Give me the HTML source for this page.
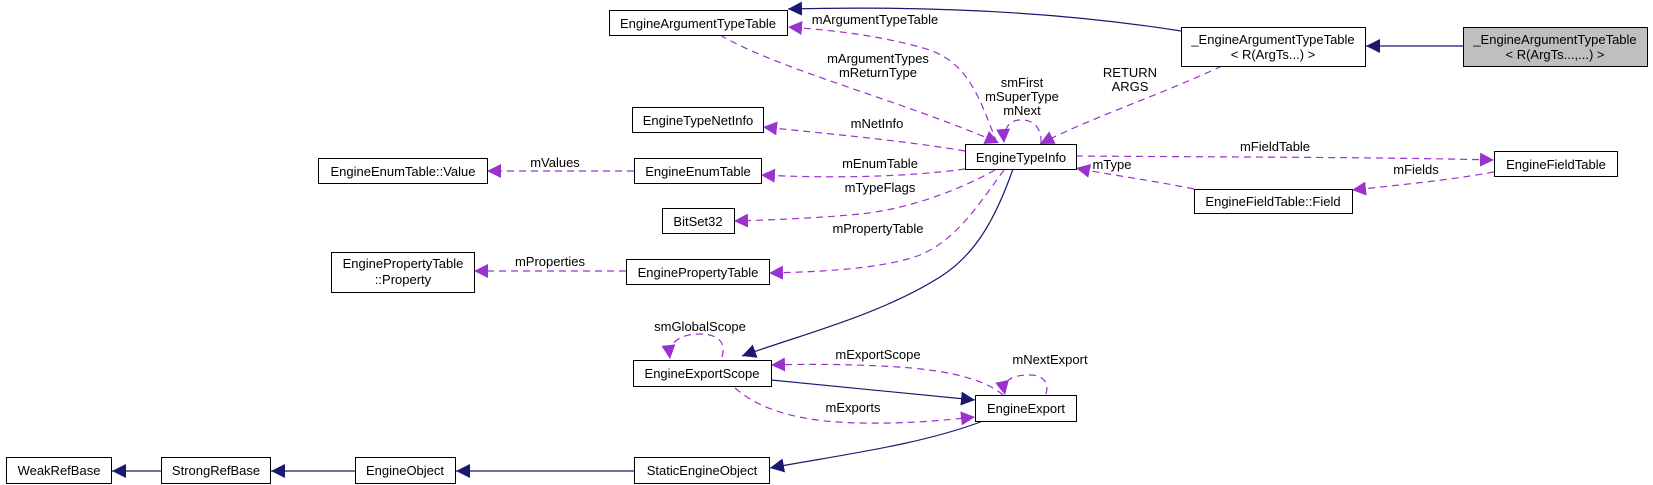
<!DOCTYPE html>
<html><head><meta charset="utf-8"><style>
html,body{margin:0;padding:0;background:#fff;}
svg{display:block;}
text{font-family:"Liberation Sans",Arial,sans-serif;font-size:13px;fill:#000;}
.b{fill:#fff;stroke:#000;stroke-width:1;}
.g{fill:#bfbfbf;stroke:#000;stroke-width:1;}
.sh{fill:none;stroke:#666;stroke-width:1;}
.s{fill:none;stroke:#191970;stroke-width:1.2;}
.d{fill:none;stroke:#9a32cd;stroke-width:1.2;stroke-dasharray:7,5;}
</style></head><body>
<svg width="1653" height="485" viewBox="0 0 1653 485" xmlns="http://www.w3.org/2000/svg">
<defs>
<marker id="ab" viewBox="0 0 10 10" refX="10" refY="5" markerWidth="14" markerHeight="14" markerUnits="userSpaceOnUse" orient="auto"><path d="M0,0L10,5L0,10z" fill="#191970"/></marker>
<marker id="ap" viewBox="0 0 10 10" refX="10" refY="5" markerWidth="14" markerHeight="14" markerUnits="userSpaceOnUse" orient="auto"><path d="M0,0L10,5L0,10z" fill="#9a32cd"/></marker>
</defs>

<path class="s" marker-end="url(#ab)" d="M1463,46 L1366,46"/>
<path class="s" marker-end="url(#ab)" d="M1181,31 C1080,15 950,5 788,9"/>
<path class="s" marker-end="url(#ab)" d="M1013,169 C995,220 975,255 940,277 C880,315 800,335 742,356"/>
<path class="s" marker-end="url(#ab)" d="M771,380 L975,400"/>
<path class="s" marker-end="url(#ab)" d="M983,421 C920,445 840,455 770,468"/>
<path class="s" marker-end="url(#ab)" d="M634,471 L456,471"/>
<path class="s" marker-end="url(#ab)" d="M355,471 L271,471"/>
<path class="s" marker-end="url(#ab)" d="M161,471 L112,471"/>

<path class="d" marker-end="url(#ap)" d="M997,143 C980,100 970,65 930,50 C880,35 830,30 788,27"/>
<path class="d" marker-end="url(#ap)" d="M720,35 C780,70 900,100 999,143"/>
<path class="d" marker-end="url(#ap)" d="M1041,143 C1042,125 1030,119 1020,120 C1010,120 1003,128 1004,143"/>
<path class="d" marker-end="url(#ap)" d="M965,151 C900,140 820,133 763,127"/>
<path class="d" marker-end="url(#ap)" d="M965,169 C900,178 820,178 761,175"/>
<path class="d" marker-end="url(#ap)" d="M995,170 C950,195 900,210 860,214 C820,218 770,220 734,221"/>
<path class="d" marker-end="url(#ap)" d="M1004,170 C975,210 955,240 920,255 C880,270 810,272 769,273"/>
<path class="d" marker-end="url(#ap)" d="M634,171 L487,171"/>
<path class="d" marker-end="url(#ap)" d="M626,271 L474,271"/>
<path class="d" marker-end="url(#ap)" d="M1222,66 C1160,95 1090,118 1040,144"/>
<path class="d" marker-end="url(#ap)" d="M1076,156 C1200,157 1380,157 1494,160"/>
<path class="d" marker-end="url(#ap)" d="M1494,172 C1450,180 1400,185 1352,190"/>
<path class="d" marker-end="url(#ap)" d="M1194,189 C1150,180 1110,175 1076,168"/>
<path class="d" marker-end="url(#ap)" d="M722,357 C727,340 715,334 700,334 C680,334 668,342 670,359"/>
<path class="d" marker-end="url(#ap)" d="M1003,395 C980,375 930,368 880,366 C840,364 800,364 771,365"/>
<path class="d" marker-end="url(#ap)" d="M735,388 C760,410 800,422 860,423 C910,424 945,420 975,417"/>
<path class="d" marker-end="url(#ap)" d="M1046,394 C1050,380 1040,375 1030,375 C1010,375 1002,381 1005,395"/>

<rect class="b" x="609.5" y="10.5" width="178" height="25"/><text x="698" y="28" text-anchor="middle">EngineArgumentTypeTable</text>
<rect class="b" x="1181.5" y="27.5" width="184" height="39"/><text x="1273" y="44" text-anchor="middle">_EngineArgumentTypeTable</text><text x="1273" y="59" text-anchor="middle">&lt; R(ArgTs...) &gt;</text>
<rect class="g" x="1463.5" y="27.5" width="184" height="39"/><text x="1555" y="44" text-anchor="middle">_EngineArgumentTypeTable</text><text x="1555" y="59" text-anchor="middle">&lt; R(ArgTs...,...) &gt;</text>
<rect class="b" x="632.5" y="107.5" width="131" height="25"/><text x="698" y="125" text-anchor="middle">EngineTypeNetInfo</text>
<rect class="b" x="965.5" y="144.5" width="111" height="25"/><text x="1021" y="162" text-anchor="middle">EngineTypeInfo</text>
<rect class="b" x="318.5" y="158.5" width="169" height="25"/><text x="403" y="176" text-anchor="middle">EngineEnumTable::Value</text>
<rect class="b" x="634.5" y="158.5" width="127" height="25"/><text x="698" y="176" text-anchor="middle">EngineEnumTable</text>
<rect class="b" x="1494.5" y="151.5" width="123" height="25"/><text x="1556" y="169" text-anchor="middle">EngineFieldTable</text>
<rect class="b" x="1194.5" y="189.5" width="158" height="24"/><text x="1273" y="206" text-anchor="middle">EngineFieldTable::Field</text>
<rect class="b" x="662.5" y="208.5" width="72" height="25"/><text x="698" y="226" text-anchor="middle">BitSet32</text>
<rect class="b" x="331.5" y="252.5" width="143" height="40"/><text x="403" y="268" text-anchor="middle">EnginePropertyTable</text><text x="403" y="284" text-anchor="middle">::Property</text>
<rect class="b" x="626.5" y="259.5" width="143" height="25"/><text x="698" y="277" text-anchor="middle">EnginePropertyTable</text>
<rect class="b" x="633.5" y="360.5" width="138" height="26"/><text x="702" y="378" text-anchor="middle">EngineExportScope</text>
<rect class="b" x="975.5" y="395.5" width="101" height="26"/><text x="1026" y="413" text-anchor="middle">EngineExport</text>
<rect class="b" x="6.5" y="457.5" width="105" height="26"/><text x="59" y="475" text-anchor="middle">WeakRefBase</text>
<rect class="b" x="161.5" y="457.5" width="109" height="26"/><text x="216" y="475" text-anchor="middle">StrongRefBase</text>
<rect class="b" x="355.5" y="457.5" width="100" height="26"/><text x="405" y="475" text-anchor="middle">EngineObject</text>
<rect class="b" x="634.5" y="457.5" width="135" height="26"/><text x="702" y="475" text-anchor="middle">StaticEngineObject</text>

<text x="875" y="24" text-anchor="middle">mArgumentTypeTable</text>
<text x="878" y="63" text-anchor="middle">mArgumentTypes</text>
<text x="878" y="77" text-anchor="middle">mReturnType</text>
<text x="1022" y="87" text-anchor="middle">smFirst</text>
<text x="1022" y="101" text-anchor="middle">mSuperType</text>
<text x="1022" y="115" text-anchor="middle">mNext</text>
<text x="1130" y="77" text-anchor="middle">RETURN</text>
<text x="1130" y="91" text-anchor="middle">ARGS</text>
<text x="877" y="128" text-anchor="middle">mNetInfo</text>
<text x="880" y="168" text-anchor="middle">mEnumTable</text>
<text x="880" y="192" text-anchor="middle">mTypeFlags</text>
<text x="878" y="233" text-anchor="middle">mPropertyTable</text>
<text x="555" y="167" text-anchor="middle">mValues</text>
<text x="550" y="266" text-anchor="middle">mProperties</text>
<text x="1275" y="151" text-anchor="middle">mFieldTable</text>
<text x="1416" y="174" text-anchor="middle">mFields</text>
<text x="1112" y="169" text-anchor="middle">mType</text>
<text x="700" y="331" text-anchor="middle">smGlobalScope</text>
<text x="878" y="359" text-anchor="middle">mExportScope</text>
<text x="1050" y="364" text-anchor="middle">mNextExport</text>
<text x="853" y="412" text-anchor="middle">mExports</text>
</svg>
</body></html>
